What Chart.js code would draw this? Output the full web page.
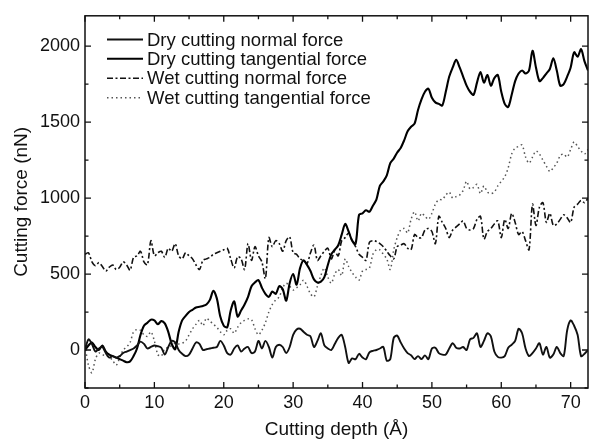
<!DOCTYPE html>
<html>
<head>
<meta charset="utf-8">
<script src="https://cdn.jsdelivr.net/npm/chart.js@4.4.1/dist/chart.umd.min.js"></script>
<style>
  html, body { margin: 0; padding: 0; background: #fff; }
  #wrap { width: 589px; height: 441px; position: relative; }
</style>
</head>
<body>
<div id="wrap"><canvas id="chart"></canvas></div>
<script>
// cutting depth (Å), sampled every 0.5
const depth = [
  0, 0.5, 1, 1.5, 2, 2.5, 3, 3.5, 4, 4.5,
  5, 5.5, 6, 6.5, 7, 7.5, 8, 8.5, 9, 9.5,
  10, 10.5, 11, 11.5, 12, 12.5, 13, 13.5, 14, 14.5,
  15, 15.5, 16, 16.5, 17, 17.5, 18, 18.5, 19, 19.5,
  20, 20.5, 21, 21.5, 22, 22.5, 23, 23.5, 24, 24.5,
  25, 25.5, 26, 26.5, 27, 27.5, 28, 28.5, 29, 29.5,
  30, 30.5, 31, 31.5, 32, 32.5, 33, 33.5, 34, 34.5,
  35, 35.5, 36, 36.5, 37, 37.5, 38, 38.5, 39, 39.5,
  40, 40.5, 41, 41.5, 42, 42.5, 43, 43.5, 44, 44.5,
  45, 45.5, 46, 46.5, 47, 47.5, 48, 48.5, 49, 49.5,
  50, 50.5, 51, 51.5, 52, 52.5, 53, 53.5, 54, 54.5,
  55, 55.5, 56, 56.5, 57, 57.5, 58, 58.5, 59, 59.5,
  60, 60.5, 61, 61.5, 62, 62.5, 63, 63.5, 64, 64.5,
  65, 65.5, 66, 66.5, 67, 67.5, 68, 68.5, 69, 69.5,
  70, 70.5, 71, 71.5, 72, 72.5,
]

const dryNormal = [
  0, 70, 40, -10, 10, 20, -20, -50, -40, -50,
  -40, -20, -10, 0, 10, 30, 55, 40, 10, 20,
  30, 25, 15, -30, 20, 60, 50, 0, -25, -40,
  -30, 10, 50, 40, 0, 5, 10, 15, 20, 60,
  30, -20, -30, 10, 30, -10, 10, 20, -20, -10,
  60, 10, 60, 20, -50, 20, 35, 20, -20, 20,
  100, 135, 140, 120, 100, 90, 20, 60, 110, 30,
  10, 0, 40, 80, 100, 20, -85, -55, -60, -25,
  -50, -60, -15, -5, 0, 10, 20, -70, -60, 80,
  95, 50, 10, -20, -35, -60, -40, -60, -35, -60,
  10, 15, -20, -30, -30, 10, 45, 15, 10, 20,
  0, 70, 80, 110, 20, 60, 110, 90, -10, -45,
  -50, -40, 15, 35, 60, 140, 110, 10, -40, -20,
  10, 45, -30, 20, -50, -30, 20, -20, -40, 130,
  195, 160, 100, -40, -25, 0,
]

const dryTangential = [
  0, 30, 50, 20, 0, 30, -10, -30, -40, -50,
  -60, -70, -80, -75, -40, 10, 100, 160, 180, 200,
  195, 170, 190, 175, 120, 40, 5, 120, 195, 225,
  250, 265, 280, 285, 290, 300, 330, 390, 340, 220,
  160, 150, 260, 320, 220, 260, 300, 350, 420, 445,
  460, 410, 370, 350, 385, 370, 420, 400, 325, 440,
  500, 430, 540, 590, 560, 520, 465, 445, 450, 480,
  560, 630, 660, 690, 760, 830, 780, 720, 700, 890,
  900, 920, 910, 950, 990, 1080, 1110, 1150, 1230, 1260,
  1300, 1330, 1380, 1440, 1470, 1490, 1580, 1650, 1700, 1720,
  1660, 1630, 1620, 1610, 1700, 1800, 1860, 1910, 1860, 1800,
  1740, 1700, 1680, 1760, 1830, 1760, 1810, 1740, 1790, 1810,
  1700, 1620, 1600, 1680, 1770, 1820, 1840, 1820, 1840, 1970,
  1860, 1770, 1790, 1820, 1850, 1920, 1840, 1740, 1750, 1800,
  1860, 1960, 1930, 1980, 1900, 1840,
]

const wetNormal = [
  630, 640, 580, 555, 575, 550, 520, 545, 560, 530,
  545, 580, 560, 525, 610, 620, 650, 580, 560, 720,
  620, 640, 650, 610, 670, 650, 700, 620, 600, 640,
  620, 600, 560, 530, 590, 600, 610, 630, 640, 650,
  660, 670, 600, 540, 615, 600, 530, 700, 590, 680,
  620, 580, 470, 740, 680, 720, 700, 650, 720, 745,
  640, 630, 600, 590, 570, 640, 690, 590, 620, 650,
  670, 600, 650, 620, 720, 740, 770, 720, 680, 630,
  610, 590, 710, 720, 715, 700, 680, 650, 620, 600,
  680, 690, 700, 670, 660, 760, 740, 740, 790, 800,
  780, 700, 880, 840, 800, 740, 790, 810, 830, 850,
  800, 790, 800, 860, 880, 730, 780, 800, 830, 850,
  740, 860, 800, 900, 840, 760, 780, 720, 660, 960,
  820, 940, 970, 840, 900, 820, 830, 860, 890, 870,
  840, 940, 960, 985, 970, 1000,
]

const wetTangential = [
  30, -100, -150, -60, -20, -30, -40, -45, -70, -100,
  -50, 0, 20, 50, 120, 135, 130, 100, 90, 120,
  60, -30, -40, 10, 15, 30, 45, 40, 45, 60,
  100, 140, 170, 195, 160, 210, 190, 170, 150, 120,
  100, 130, 140, 110, 150, 180, 195, 205, 200, 140,
  100, 130, 180, 250, 300, 330, 350, 410, 440, 420,
  395, 410, 430, 460, 420, 370, 350, 420, 490, 540,
  480, 440, 500, 530, 490, 600, 550, 510, 480, 460,
  520, 530, 540, 630, 660, 660, 630, 600, 530, 660,
  740, 790, 800, 770, 860, 910, 850, 900, 880, 860,
  900, 960, 990, 990, 1020, 1040, 1000, 1010, 1020, 1050,
  1110, 1060, 1070, 1090, 1030, 1080, 1040, 1030, 1040, 1080,
  1110, 1140, 1200, 1290, 1330, 1340, 1350, 1270, 1230, 1270,
  1310, 1290, 1250, 1210, 1175, 1200, 1230, 1280, 1290, 1270,
  1320, 1370, 1340, 1310, 1290, 1320,
]

const seriesNames = [
  "Dry cutting normal force",
  "Dry cutting tangential force",
  "Wet cutting normal force",
  "Wet cutting tangential force",
]

// tick positions: labelled every 10 Å / 500 nN, minor marks in between
const xTickValues = [0, 5, 10, 15, 20, 25, 30, 35, 40, 45, 50, 55, 60, 65, 70]
const yTickValues = [-250, 0, 250, 500, 750, 1000, 1250, 1500, 1750, 2000]

const FONT = "'Liberation Sans', Arial, sans-serif"
const INK = "#111"

const pts = (vals) => depth.map((x, i) => ({ x, y: vals[i] }))

// box frame plus inward ticks on all four sides, like the original plot
const frameTicks = {
  id: "frameTicks",
  afterDraw(chart) {
    const { ctx, chartArea: a, scales: { x, y } } = chart
    ctx.save()
    ctx.strokeStyle = INK
    ctx.lineWidth = 1.5
    ctx.strokeRect(a.left, a.top, a.right - a.left, a.bottom - a.top)
    ctx.lineWidth = 1.3
    ctx.beginPath()
    x.ticks.forEach(t => {
      const px = x.getPixelForValue(t.value)
      const len = t.value % 10 === 0 ? 6 : 3.5
      ctx.moveTo(px, a.bottom); ctx.lineTo(px, a.bottom - len)
      ctx.moveTo(px, a.top); ctx.lineTo(px, a.top + len)
    })
    y.ticks.forEach(t => {
      const py = y.getPixelForValue(t.value)
      const len = t.value % 500 === 0 ? 6 : 3.5
      ctx.moveTo(a.left, py); ctx.lineTo(a.left + len, py)
      ctx.moveTo(a.right, py); ctx.lineTo(a.right - len, py)
    })
    ctx.stroke()
    ctx.restore()
  },
}

// legend in the top-left corner of the plot
const insideLegend = {
  id: "insideLegend",
  afterDraw(chart) {
    const { ctx } = chart
    const rows = [39.5, 58.8, 78.3, 97.8]
    ctx.save()
    ctx.font = `18.5px ${FONT}`
    ctx.textBaseline = "middle"
    chart.data.datasets.forEach((ds, i) => {
      const yy = rows[i]
      ctx.strokeStyle = ds.borderColor
      ctx.lineWidth = ds.borderWidth
      ctx.setLineDash(ds.borderDash || [])
      ctx.beginPath()
      ctx.moveTo(107, yy); ctx.lineTo(143, yy)
      ctx.stroke()
      ctx.setLineDash([])
      ctx.fillStyle = INK
      ctx.fillText(ds.label, 147, yy + 1)
    })
    ctx.restore()
  },
}

new Chart(document.getElementById("chart"), {
  type: "line",
  data: {
    datasets: [
      { label: seriesNames[0], data: pts(dryNormal), borderColor: "#111", borderWidth: 1.9 },
      { label: seriesNames[1], data: pts(dryTangential), borderColor: "#000", borderWidth: 2.1 },
      { label: seriesNames[2], data: pts(wetNormal), borderColor: "#111", borderWidth: 1.6, borderDash: [6, 2.5, 2, 2.5] },
      { label: seriesNames[3], data: pts(wetTangential), borderColor: "#555", borderWidth: 1.5, borderDash: [1.5, 3] },
    ],
  },
  options: {
    responsive: true,
    maintainAspectRatio: false,
    animation: false,
    layout: { padding: { top: 15, right: 1, left: 0, bottom: 0 } },
    elements: {
      point: { radius: 0 },
      line: { tension: 0.3, fill: false },
    },
    scales: {
      x: {
        type: "linear",
        min: 0,
        max: 72.5,
        afterFit: (s) => { s.height = 53 },
        afterBuildTicks: (s) => { s.ticks = xTickValues.map(value => ({ value })) },
        grid: { display: false, drawTicks: false },
        border: { display: false },
        ticks: {
          autoSkip: false,
          maxRotation: 0,
          padding: 4,
          color: INK,
          font: { family: FONT, size: 18 },
          callback: (v) => (v % 10 === 0 ? v : ""),
        },
        title: {
          display: true,
          text: "Cutting depth (Å)",
          color: INK,
          font: { family: FONT, size: 19 },
          padding: { top: 0, bottom: 0 },
        },
      },
      y: {
        min: -250,
        max: 2200,
        afterFit: (s) => { s.width = 85 },
        afterBuildTicks: (s) => { s.ticks = yTickValues.map(value => ({ value })) },
        grid: { display: false, drawTicks: false },
        border: { display: false },
        ticks: {
          autoSkip: false,
          padding: 5,
          color: INK,
          font: { family: FONT, size: 18 },
          callback: (v) => (v % 500 === 0 ? v : ""),
        },
        title: {
          display: true,
          text: "Cutting force (nN)",
          color: INK,
          font: { family: FONT, size: 19 },
          padding: { top: 10, bottom: 0 },
        },
      },
    },
    plugins: {
      legend: { display: false },
      tooltip: { enabled: false },
    },
  },
  plugins: [frameTicks, insideLegend],
})
</script>
</body>
</html>
